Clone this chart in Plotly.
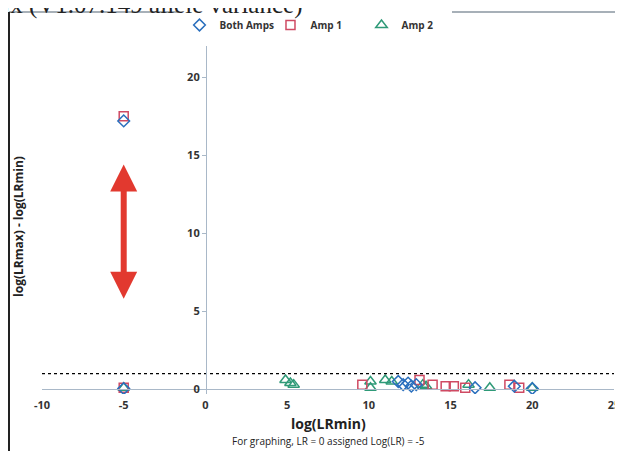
import plotly.graph_objects as go

# log(LRmin) vs log(LRmax) - log(LRmin)
both_x = [-5, -5, 11.8, 12.1, 12.4, 12.6, 12.9, 16.5, 18.9, 20.0]
both_y = [17.2, 0.05, 0.5, 0.3, 0.4, 0.2, 0.3, 0.1, 0.2, 0.05]

amp1_x = [-5, -5, 9.6, 13.1, 13.9, 14.7, 15.2, 15.9, 18.6, 19.2]
amp1_y = [17.5, 0.1, 0.3, 0.6, 0.3, 0.2, 0.2, 0.1, 0.3, 0.1]

amp2_x = [-5, 4.9, 5.2, 5.4, 10.1, 10.1, 11.0, 11.4, 13.3, 13.5, 16.1, 17.4, 20.0]
amp2_y = [0.1, 0.6, 0.4, 0.3, 0.5, 0.1, 0.6, 0.5, 0.3, 0.2, 0.3, 0.1, 0.1]

cutoff = 1
x_ticks = [-10, -5, 0, 5, 10, 15, 20, 25]
y_ticks = [0, 5, 10, 15, 20]

font = "Open Sans"
blue = "#2a6fbd"
red = "#cf4a63"
green = "#2f9a78"

fig = go.Figure()
fig.add_trace(go.Scatter(x=amp2_x, y=amp2_y, mode="markers", name="<b>Amp 2</b>",
                         marker=dict(symbol="triangle-up-open", size=10, color=green, line=dict(width=1.5))))
fig.add_trace(go.Scatter(x=amp1_x, y=amp1_y, mode="markers", name="<b>Amp 1</b>",
                         marker=dict(symbol="square-open", size=9, color=red, line=dict(width=1.5))))
fig.add_trace(go.Scatter(x=both_x, y=both_y, mode="markers", name="<b>Both Amps</b>",
                         marker=dict(symbol="diamond-open", size=9, color=blue, line=dict(width=1.5))))

# dotted threshold line at y = 1
fig.add_trace(go.Scatter(x=[x_ticks[0], x_ticks[-1]], y=[cutoff, cutoff], mode="lines",
                         line=dict(color="black", width=1.2, dash="dot"), showlegend=False,
                         hoverinfo="skip"))

# page has an 8px body margin, so the plot is drawn 8px up and left of where it appears
fig.update_layout(
    width=623, height=443,
    margin=dict(l=34, r=17, t=38, b=57, autoexpand=False),
    paper_bgcolor="white", plot_bgcolor="white",
    font=dict(family=font, size=11, color="#333333"),
    legend=dict(orientation="h", x=0.479, xanchor="center", yref="container", y=0.9616,
                yanchor="middle", traceorder="reversed", font=dict(size=10, color="#333"),
                itemwidth=30, entrywidth=46, tracegroupgap=0),
    xaxis=dict(range=[-10, 25], tickvals=x_ticks, ticktext=[f"<b>{v}</b>" for v in x_ticks],
               showgrid=False, zeroline=False,
               showline=True, linecolor="#a9b8c8", linewidth=1.2,
               anchor="free", position=0.0144, ticks="", ticklabelstandoff=6,
               ticklabeloverflow="allow", tickfont=dict(size=11, color="#333")),
    yaxis=dict(range=[-0.3, 22], tickvals=y_ticks, ticktext=[f"<b>{v}</b>" for v in y_ticks],
               showgrid=False, zeroline=False,
               showline=True, linecolor="#a9b8c8", linewidth=1.2,
               anchor="free", position=0.2867, ticks="outside", ticklen=4,
               tickcolor="#a9b8c8", tickfont=dict(size=11, color="#333")),
    showlegend=True,
)

# red double arrow
fig.add_annotation(x=-5, y=14.4, ax=-5, ay=5.7, xref="x", yref="y", axref="x", ayref="y",
                   text="", showarrow=True, arrowhead=2, startarrowhead=2, arrowside="end+start",
                   arrowsize=0.9, startarrowsize=0.9, arrowwidth=6, arrowcolor="#e2392f")

# axis titles
fig.add_annotation(x=-0.0595, y=0.4815, xref="paper", yref="paper", text="<b>log(LRmax) - log(LRmin)</b>",
                   textangle=-90, showarrow=False, font=dict(size=12, color="#222"))
fig.add_annotation(x=0.5, y=0, xref="paper", yref="paper", yanchor="top", yshift=-18,
                   text="<b>log(LRmin)</b>", showarrow=False, font=dict(size=14, color="#222"))
fig.add_annotation(x=0.5, y=0, xref="paper", yref="paper", yanchor="top", yshift=-38,
                   text="For graphing, LR = 0 assigned Log(LR) = -5",
                   showarrow=False, font=dict(size=10, color="#222"))

# cut-off page title above the chart frame
fig.add_annotation(x=0.458, y=1.072, xref="paper", yref="paper", xanchor="right", yanchor="bottom",
                   text="STRmix (V1.07.149 allele variance)", showarrow=False,
                   font=dict(family="Liberation Serif", size=25, color="#222"))

# chart frame (top and left edges)
fig.add_shape(type="line", xref="paper", yref="paper", x0=-0.0577, x1=1.03, y0=1.0977, y1=1.0977,
              line=dict(color="#8a96a0", width=1.5))
fig.add_shape(type="line", xref="paper", yref="paper", x0=-0.0577, x1=-0.0577, y0=1.0977, y1=-0.2,
              line=dict(color="#222", width=2))

fig.write_html("out.html")
